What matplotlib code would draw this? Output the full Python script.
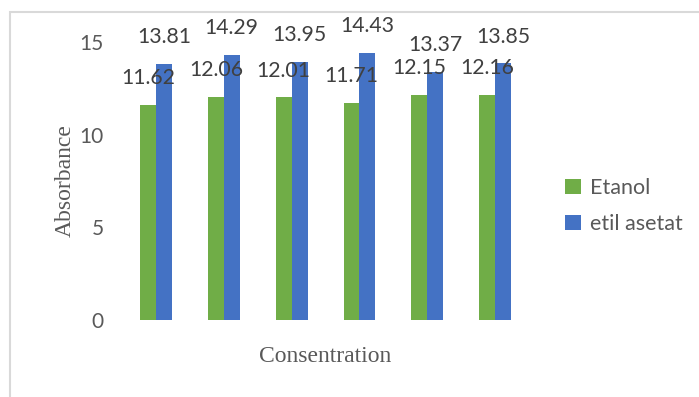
import matplotlib.pyplot as plt
import numpy as np
from matplotlib.patches import Rectangle

# Data
groups = ["1", "2", "3", "4", "5", "6"]
etanol = [11.62, 12.06, 12.01, 11.71, 12.15, 12.16]
etil_asetat = [13.81, 14.29, 13.95, 14.43, 13.37, 13.85]

green = "#70AD47"
blue = "#4472C4"
txt = "#404040"

fig = plt.figure(figsize=(6.99, 3.97), dpi=100)
ax = fig.add_axes([0.1745, 0.194, 0.5825, 0.70])

x = np.arange(len(groups))
w = 0.235
b1 = ax.bar(x - w / 2, etanol, w, color=green, label="Etanol")
b2 = ax.bar(x + w / 2, etil_asetat, w, color=blue, label="etil asetat")

# data labels
for bars, vals in ((b1, etanol), (b2, etil_asetat)):
    for r, v in zip(bars, vals):
        ax.annotate(f"{v:.2f}", (r.get_x() + r.get_width() / 2, v),
                    xytext=(0, 15), textcoords="offset points",
                    ha="center", va="baseline", fontsize=15.3,
                    family="Lato", color=txt, annotation_clip=False)

ax.set_xlim(-0.5, len(groups) - 0.5)
ax.set_ylim(0, 15)
ax.set_yticks([0, 5, 10, 15])
ax.set_xticks([])
ax.tick_params(axis="y", length=0, pad=13, labelsize=15, labelcolor="#595959")
for lbl in ax.get_yticklabels():
    lbl.set_family("Lato")
for s in ax.spines.values():
    s.set_visible(False)

ax.set_ylabel("Absorbance", family="Liberation Serif", fontsize=17,
              color="#595959", labelpad=3)
ax.set_xlabel("Consentration", family="Liberation Serif", fontsize=17,
              color="#595959", labelpad=19)

fig.legend(handles=[b1, b2], loc="center left", bbox_to_anchor=(0.808, 0.481),
           frameon=False, borderpad=0, borderaxespad=0, handlelength=0.75,
           handleheight=0.75, handletextpad=0.4, labelspacing=0.75,
           prop={"family": "Lato", "size": 15.5}, labelcolor="#595959")

# light chart border (cropped at right and bottom)
fig.patches.append(Rectangle((10 / 699, -0.1), 1.2, (397 - 12) / 397 + 0.1,
                             transform=fig.transFigure, fill=False,
                             edgecolor="#D9D9D9", linewidth=1.5))

fig.savefig("out.png", dpi=100)
